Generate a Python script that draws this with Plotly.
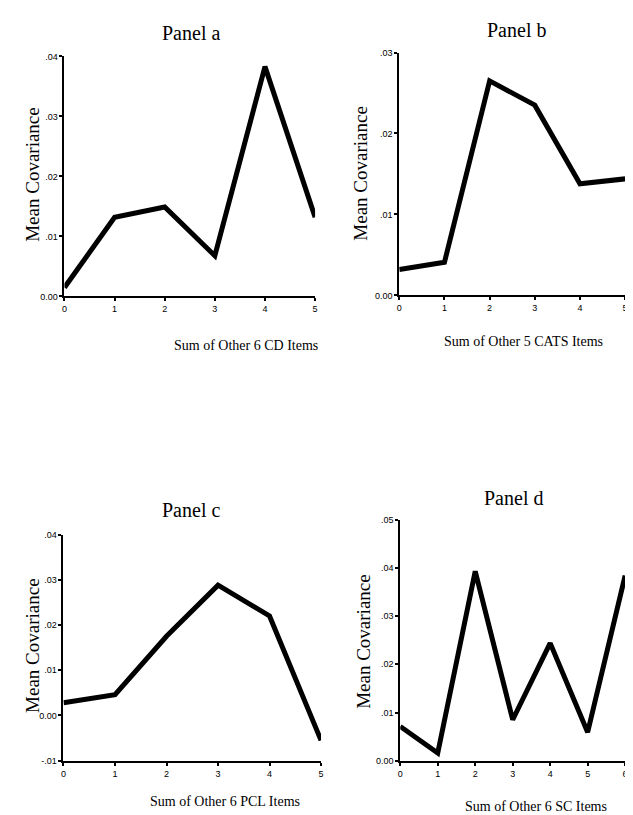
import plotly.graph_objects as go

W, H = 633, 815

# Data
x_a = [0, 1, 2, 3, 4, 5]
y_a = [0.0015, 0.0132, 0.0149, 0.0068, 0.0383, 0.0132]
x_b = [0, 1, 2, 3, 4, 5]
y_b = [0.0032, 0.0041, 0.0265, 0.0235, 0.0138, 0.0144]
x_c = [0, 1, 2, 3, 4, 5]
y_c = [0.0028, 0.0046, 0.0175, 0.0288, 0.0220, -0.0055]
x_d = [0, 1, 2, 3, 4, 5, 6]
y_d = [0.0071, 0.0016, 0.0393, 0.0085, 0.0244, 0.0059, 0.0384]

panel_titles = ["Panel a", "Panel b", "Panel c", "Panel d"]
x_titles = ["Sum of Other 6 CD Items", "Sum of Other 5 CATS Items",
            "Sum of Other 6 PCL Items", "Sum of Other 6 SC Items"]
y_title = "Mean Covariance"

ytick_a = [0.0, 0.01, 0.02, 0.03, 0.04]
ytext_a = ["0.00", ".01", ".02", ".03", ".04"]
ytick_b = [0.0, 0.01, 0.02, 0.03]
ytext_b = ["0.00", ".01", ".02", ".03"]
ytick_c = [-0.01, 0.0, 0.01, 0.02, 0.03, 0.04]
ytext_c = ["-.01", "0.00", ".01", ".02", ".03", ".04"]
ytick_d = [0.0, 0.01, 0.02, 0.03, 0.04, 0.05]
ytext_d = ["0.00", ".01", ".02", ".03", ".04", ".05"]

yranges = [[0, 0.04], [0, 0.03], [-0.01, 0.04], [0, 0.05]]

# pixel boxes: (left, right, top, bottom)
boxes = [(54, 307, 44, 287), (392, 620, 40, 286), (53, 313, 528, 757), (393, 620, 513, 757)]
title_pos = [(182, 20), (510, 17), (182, 503), (507, 491)]
xtitle_pos = [(237, 337), (517, 333), (216, 798), (530, 803)]
ytitle_pos = [(22, 163), (352, 162), (21, 640), (356, 636)]

serif = "Liberation Serif"
sans = "Liberation Sans"

fig = go.Figure()
data = [(x_a, y_a), (x_b, y_b), (x_c, y_c), (x_d, y_d)]
yticks = [(ytick_a, ytext_a), (ytick_b, ytext_b), (ytick_c, ytext_c), (ytick_d, ytext_d)]

annotations = []
for i, ((xs, ys), (tv, tt), box) in enumerate(zip(data, yticks, boxes)):
    n = i + 1
    xa = "x" if n == 1 else f"x{n}"
    ya = "y" if n == 1 else f"y{n}"
    fig.add_trace(go.Scatter(x=xs, y=ys, mode="lines",
                             line=dict(color="black", width=5),
                             xaxis=xa, yaxis=ya, showlegend=False))
    l, r, t, b = box
    axis_common = dict(showgrid=False, zeroline=False, showline=True,
                       linecolor="black", linewidth=2, ticks="outside",
                       ticklen=3, tickwidth=2, tickcolor="black",
                       ticklabeloverflow="allow",
                       tickfont=dict(family=sans, size=9, color="black"))
    fig.layout[f"xaxis{'' if n == 1 else n}"] = dict(
        domain=[l / W, r / W], anchor=ya,
        range=[0, max(xs)], tickvals=xs, ticktext=[str(v) for v in xs],
        **axis_common)
    fig.layout[f"yaxis{'' if n == 1 else n}"] = dict(
        domain=[1 - b / H, 1 - t / H], anchor=xa,
        range=yranges[i], tickvals=tv, ticktext=tt, **axis_common)

    px, py = title_pos[i]
    annotations.append(dict(text=panel_titles[i], x=px / W, y=1 - py / H,
                            xref="paper", yref="paper", showarrow=False,
                            xanchor="center", yanchor="middle",
                            font=dict(family=serif, size=20, color="black")))
    px, py = xtitle_pos[i]
    annotations.append(dict(text=x_titles[i], x=px / W, y=1 - py / H,
                            xref="paper", yref="paper", showarrow=False,
                            xanchor="center", yanchor="middle",
                            font=dict(family=serif, size=14, color="black")))
    px, py = ytitle_pos[i]
    annotations.append(dict(text=y_title, x=px / W, y=1 - py / H,
                            xref="paper", yref="paper", showarrow=False,
                            xanchor="center", yanchor="middle", textangle=-90,
                            font=dict(family=serif, size=19, color="black")))

fig.update_layout(width=W, height=H, margin=dict(l=0, r=0, t=0, b=0),
                  paper_bgcolor="white", plot_bgcolor="white",
                  annotations=annotations)

fig.write_html("out.html")
